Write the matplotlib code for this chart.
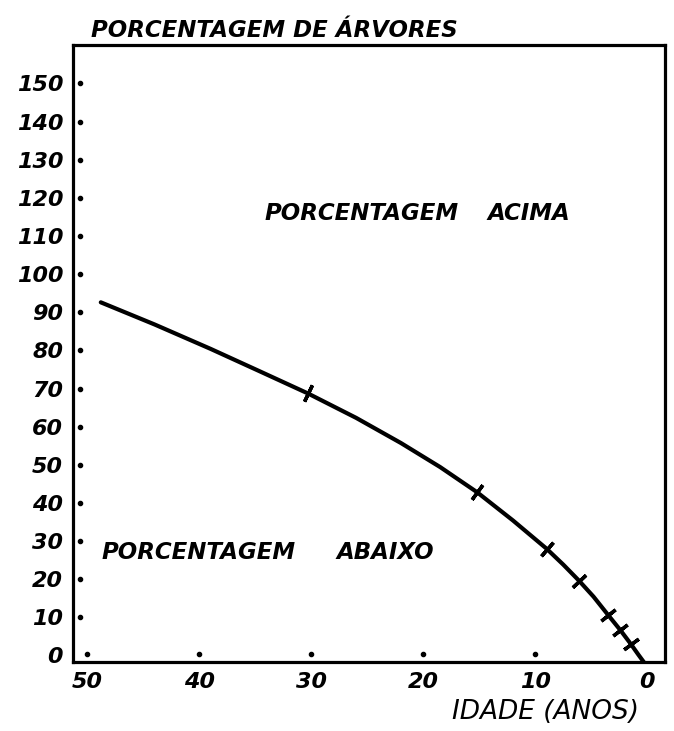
import numpy as np
import matplotlib.pyplot as plt

# curve (idade em anos, porcentagem)
idade = [48.8, 44.0, 39.0, 34.6, 30.3, 26.0, 22.0, 18.5, 15.2, 12.0, 9.0, 7.5,
         6.1, 4.8, 3.5, 2.4, 1.5, 0.8, 0.3]
porcent = [92.6, 86.8, 80.4, 74.5, 68.7, 62.3, 55.7, 49.4, 42.8, 35.4, 28.0, 23.8,
           19.6, 15.4, 10.6, 6.6, 3.1, 0.2, -1.8]

# points marked with a cross on the curve
marca_x = [30.3, 15.2, 9.0, 6.1, 3.5, 2.4, 1.5]
marca_y = [68.7, 42.8, 28.0, 19.6, 10.6, 6.6, 3.1]

y_ticks = list(range(0, 151, 10))
x_ticks = [50, 40, 30, 20, 10, 0]
y_labels = ["0", "10", "20", "30", "40", "50", "60", "70", "80", "90",
            "100", "110", "120", "130", "140", "150"]
x_labels = ["50", "40", "30", "20", "10", "0"]

plt.rcParams['font.family'] = ['DejaVu Sans']
txt = dict(style='italic', weight='bold', color='black')

fig = plt.figure(figsize=(6.74, 7.31), dpi=100)
ax = fig.add_axes([0.108, 0.094, 0.879, 0.844])

ax.plot(idade, porcent, color='black', lw=3.0, solid_capstyle='round', zorder=3)

ax.set_xlim(51.3, -1.6)
ax.set_ylim(-1.8, 160)

# short strokes across the curve at the marked points
fig.canvas.draw()
pts = ax.transData.transform(np.column_stack([idade, porcent]))
for mx, my in zip(marca_x, marca_y):
    i = int(np.argmin(np.abs(np.array(idade) - mx)))
    a = pts[max(i - 1, 0)]
    b = pts[min(i + 1, len(idade) - 1)]
    ang = np.degrees(np.arctan2(b[1] - a[1], b[0] - a[0]))
    ax.plot([mx], [my], marker=(2, 2, ang), ms=13, mew=2.5, color='black', zorder=4)

# dotted ticks inside the frame
ax.plot(np.full(len(y_ticks) - 1, 50.7), y_ticks[1:], 'o', color='black', ms=3)
ax.plot(x_ticks[:-1], np.full(len(x_ticks) - 1, 0.3), 'o', color='black', ms=3)

ax.set_xticks(x_ticks)
ax.set_xticklabels(x_labels, fontsize=16, **txt)
ax.set_yticks(y_ticks)
ax.set_yticklabels(y_labels, fontsize=16, **txt)
ax.tick_params(length=0, pad=7)

for s in ax.spines.values():
    s.set_linewidth(2.3)

ax.text(0.03, 1.024, "PORCENTAGEM DE ÁRVORES", transform=ax.transAxes,
        fontsize=16.5, ha='left', va='center', **txt)
ax.text(0.324, 0.728, "PORCENTAGEM", transform=ax.transAxes,
        fontsize=16.5, ha='left', va='center', **txt)
ax.text(0.70, 0.728, "ACIMA", transform=ax.transAxes,
        fontsize=16.5, ha='left', va='center', **txt)
ax.text(0.049, 0.178, "PORCENTAGEM", transform=ax.transAxes,
        fontsize=16.5, ha='left', va='center', **txt)
ax.text(0.445, 0.178, "ABAIXO", transform=ax.transAxes,
        fontsize=16.5, ha='left', va='center', **txt)
ax.text(0.955, -0.081, "IDADE (ANOS)", transform=ax.transAxes,
        fontsize=19, ha='right', va='center', style='italic', color='black')

fig.savefig("out.png", dpi=100)
